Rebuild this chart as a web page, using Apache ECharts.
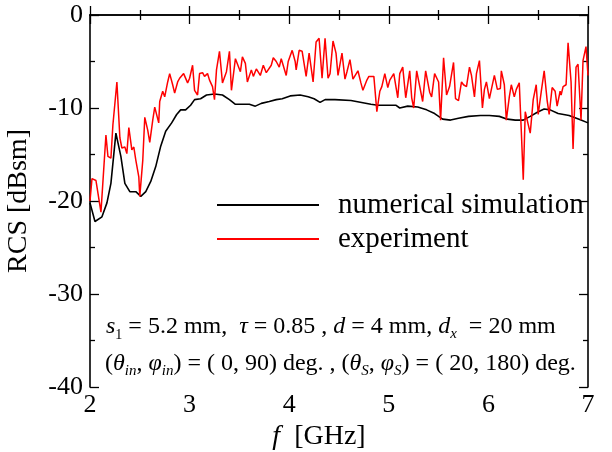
<!DOCTYPE html>
<html>
<head>
<meta charset="utf-8">
<script src="https://cdn.jsdelivr.net/npm/echarts@6/dist/echarts.min.js"></script>
<style>html,body{margin:0;padding:0;background:#fff}#c{width:612px;height:452px}</style>
</head>
<body>
<div id="c"></div>
<script>
// ---- data ----
const simFreq = [2.00,2.05,2.12,2.17,2.21,2.26,2.31,2.35,2.40,2.46,2.51,2.56,2.61,2.66,2.71,2.76,2.82,2.87,2.91,2.96,3.01,3.05,3.11,3.17,3.25,3.33,3.40,3.46,3.54,3.60,3.66,3.72,3.80,3.87,3.93,4.01,4.11,4.19,4.25,4.31,4.36,4.46,4.62,4.82,4.89,5.01,5.07,5.11,5.19,5.29,5.38,5.46,5.54,5.62,5.70,5.80,5.92,6.01,6.11,6.19,6.27,6.35,6.42,6.50,6.56,6.62,6.70,6.81,6.93,7.00];
const simRcs = [-20.2,-22.2,-21.7,-20.2,-18.1,-12.7,-15.2,-18.1,-19.0,-19.0,-19.5,-19.0,-17.9,-16.3,-14.1,-12.5,-11.6,-10.7,-10.2,-10.2,-9.7,-9.1,-9.0,-8.6,-8.5,-8.6,-9.1,-9.6,-9.6,-9.6,-9.8,-9.5,-9.3,-9.1,-9.0,-8.7,-8.6,-8.8,-9.0,-9.4,-9.1,-9.1,-9.2,-9.6,-9.7,-9.7,-9.7,-10.0,-9.8,-9.9,-10.2,-10.6,-11.2,-11.3,-11.1,-10.9,-10.8,-10.8,-10.9,-11.2,-11.3,-11.3,-10.9,-10.4,-10.1,-10.2,-10.6,-10.8,-11.3,-11.6];

const expFreq = [2.00,2.02,2.06,2.11,2.16,2.18,2.21,2.23,2.25,2.27,2.30,2.32,2.35,2.37,2.39,2.42,2.44,2.46,2.49,2.50,2.53,2.55,2.58,2.60,2.63,2.65,2.69,2.70,2.73,2.75,2.78,2.80,2.83,2.85,2.88,2.90,2.94,2.96,2.98,3.00,3.03,3.05,3.08,3.10,3.13,3.15,3.18,3.20,3.23,3.25,3.27,3.30,3.33,3.37,3.40,3.42,3.46,3.48,3.51,3.53,3.56,3.58,3.60,3.62,3.64,3.67,3.71,3.74,3.77,3.79,3.82,3.84,3.87,3.90,3.92,3.97,3.99,4.03,4.06,4.07,4.10,4.13,4.17,4.20,4.24,4.27,4.30,4.33,4.36,4.39,4.41,4.44,4.47,4.49,4.53,4.56,4.58,4.61,4.64,4.66,4.69,4.72,4.74,4.78,4.80,4.82,4.85,4.88,4.91,4.93,4.96,4.99,5.01,5.05,5.09,5.11,5.14,5.17,5.21,5.23,5.25,5.28,5.30,5.34,5.37,5.41,5.43,5.46,5.50,5.52,5.55,5.58,5.61,5.65,5.67,5.70,5.73,5.75,5.78,5.81,5.83,5.86,5.88,5.91,5.94,5.96,5.98,6.01,6.03,6.06,6.09,6.12,6.13,6.16,6.18,6.21,6.23,6.26,6.28,6.31,6.33,6.35,6.37,6.39,6.42,6.45,6.48,6.50,6.53,6.56,6.59,6.61,6.64,6.67,6.69,6.72,6.73,6.75,6.78,6.80,6.83,6.85,6.88,6.90,6.93,6.95,6.98,7.00];
const expRcs = [-20.0,-17.6,-17.8,-21.2,-12.9,-15.2,-15.4,-11.8,-11.6,-7.2,-13.2,-14.3,-14.2,-14.9,-12.1,-14.5,-14.2,-15.6,-17.4,-19.5,-15.6,-11.0,-12.4,-13.7,-11.3,-9.9,-11.6,-9.3,-8.2,-8.8,-7.2,-6.3,-7.5,-8.4,-7.2,-6.8,-6.3,-6.1,-7.3,-6.8,-5.4,-8.1,-8.6,-6.3,-6.2,-6.6,-6.3,-7.0,-7.7,-9.1,-5.9,-3.9,-7.3,-6.1,-3.9,-8.1,-4.7,-4.5,-6.1,-4.5,-5.2,-7.2,-7.0,-5.9,-6.6,-5.8,-6.5,-5.4,-6.2,-6.3,-5.4,-4.6,-5.0,-5.6,-4.7,-6.5,-5.0,-3.8,-5.0,-5.9,-3.8,-3.9,-6.6,-4.1,-7.2,-2.9,-2.5,-6.8,-2.5,-6.8,-6.3,-2.8,-4.1,-6.5,-4.1,-6.9,-6.1,-4.8,-6.9,-6.8,-6.0,-7.3,-8.1,-7.0,-6.6,-6.8,-6.6,-10.4,-8.2,-7.7,-6.3,-7.8,-7.0,-6.3,-8.9,-6.3,-5.6,-8.9,-6.0,-8.9,-10.0,-6.0,-6.0,-9.3,-6.0,-8.3,-8.8,-6.3,-7.2,-11.3,-4.6,-8.6,-7.7,-5.1,-9.0,-9.2,-7.2,-7.5,-7.7,-5.6,-6.5,-8.8,-6.3,-4.9,-10.0,-8.0,-7.2,-9.0,-9.0,-6.5,-8.0,-7.9,-6.0,-7.5,-11.3,-8.8,-7.5,-8.8,-8.0,-7.3,-12.4,-17.7,-10.4,-10.4,-12.7,-9.1,-7.5,-10.7,-8.3,-6.0,-9.2,-10.7,-7.8,-8.2,-9.8,-8.2,-8.6,-7.7,-7.5,-3.0,-7.2,-14.4,-5.6,-5.3,-11.3,-4.9,-3.4,-6.5];

const seriesNames = ['numerical simulation', 'experiment'];
const xTicks = [2, 3, 4, 5, 6, 7];
const yTicks = [-40, -30, -20, -10, 0];

// ---- chart ----
const FONT = '"Liberation Serif", "Times New Roman", serif';
const zip = (a, b) => a.map((v, i) => [v, b[i]]);
const axisCommon = {
  axisLine: { show: true, lineStyle: { color: '#000', width: 1.6 } },
  axisTick: { show: true, inside: true, length: 9, lineStyle: { color: '#000', width: 1.3 } },
  minorTick: { show: true, splitNumber: 2, length: 5, lineStyle: { color: '#000', width: 1.3 } },
  splitLine: { show: false }
};
const chart = echarts.init(document.getElementById('c'), null, { renderer: 'canvas' });
chart.setOption({
  animation: false,
  backgroundColor: '#fff',
  grid: { left: 90, right: 24, top: 15, bottom: 65, containLabel: false, outerBoundsMode: 'none' },
  legend: {
    data: seriesNames,
    orient: 'vertical',
    left: 212, top: 183,
    icon: 'rect',
    itemWidth: 102, itemHeight: 2, itemGap: 0,
    textStyle: { fontFamily: FONT, fontSize: 29, color: '#000', lineHeight: 34, padding: [0, 0, 0, 14] }
  },
  xAxis: [
    Object.assign({ type: 'value', min: xTicks[0], max: xTicks[xTicks.length-1], interval: 1, position: 'bottom',
      axisLabel: { fontFamily: FONT, fontSize: 26, color: '#000', margin: 5 },
      name: '{i|f}  [GHz]', nameLocation: 'middle', nameGap: 30,
      nameTextStyle: { fontFamily: FONT, fontSize: 28, color: '#000', padding: [0, 40, 0, 0],
        rich: { i: { fontFamily: FONT, fontSize: 28, fontStyle: 'italic', color: '#000' } } }
    }, axisCommon),
    Object.assign({ type: 'value', min: xTicks[0], max: xTicks[xTicks.length-1], interval: 1, position: 'top',
      axisLabel: { show: false } }, axisCommon)
  ],
  yAxis: [
    Object.assign({ type: 'value', min: yTicks[0], max: yTicks[yTicks.length-1], interval: 10, position: 'left',
      axisLabel: { fontFamily: FONT, fontSize: 26, color: '#000', margin: 7 },
      name: 'RCS [dBsm]', nameLocation: 'middle', nameGap: 57,
      nameTextStyle: { fontFamily: FONT, fontSize: 28, color: '#000' }
    }, axisCommon),
    Object.assign({ type: 'value', min: yTicks[0], max: yTicks[yTicks.length-1], interval: 10, position: 'right',
      axisLabel: { show: false } }, axisCommon)
  ],
  series: [
    { name: seriesNames[0], type: 'line', data: zip(simFreq, simRcs), showSymbol: false, symbol: 'none',
      lineStyle: { color: '#000', width: 1.6 }, itemStyle: { color: '#000' } },
    { name: seriesNames[1], type: 'line', data: zip(expFreq, expRcs), showSymbol: false, symbol: 'none',
      lineStyle: { color: '#ff0000', width: 1.5 }, itemStyle: { color: '#ff0000' } }
  ],
  graphic: [
    { type: 'text', left: 106, top: 315, z: 100,
      style: {
        text: '{i|s}{sub|1} = 5.2 mm,  {i|τ} = 0.85 , {i|d} = 4 mm, {i|d}{subi|x}  = 20 mm',
        font: '24px ' + FONT, fill: '#000',
        rich: {
          i: { fontStyle: 'italic', fontSize: 24, fontFamily: FONT, lineHeight: 30 },
          sub: { fontSize: 14, fontFamily: FONT, lineHeight: 12, verticalAlign: 'bottom' },
          subi: { fontSize: 15, fontStyle: 'italic', fontFamily: FONT, lineHeight: 12, verticalAlign: 'bottom' }
        }
      } },
    { type: 'text', left: 105, top: 352, z: 100,
      style: {
        text: '({i|θ}{subi|in}, {i|φ}{subi|in}) = ( 0, 90) deg. , ({i|θ}{subi|S}, {i|φ}{subi|S}) = ( 20, 180) deg.',
        font: '24px ' + FONT, fill: '#000',
        rich: {
          i: { fontStyle: 'italic', fontSize: 24, fontFamily: FONT, lineHeight: 30 },
          subi: { fontSize: 15, fontStyle: 'italic', fontFamily: FONT, lineHeight: 12, verticalAlign: 'bottom' }
        }
      } }
  ]
});
</script>
</body>
</html>
